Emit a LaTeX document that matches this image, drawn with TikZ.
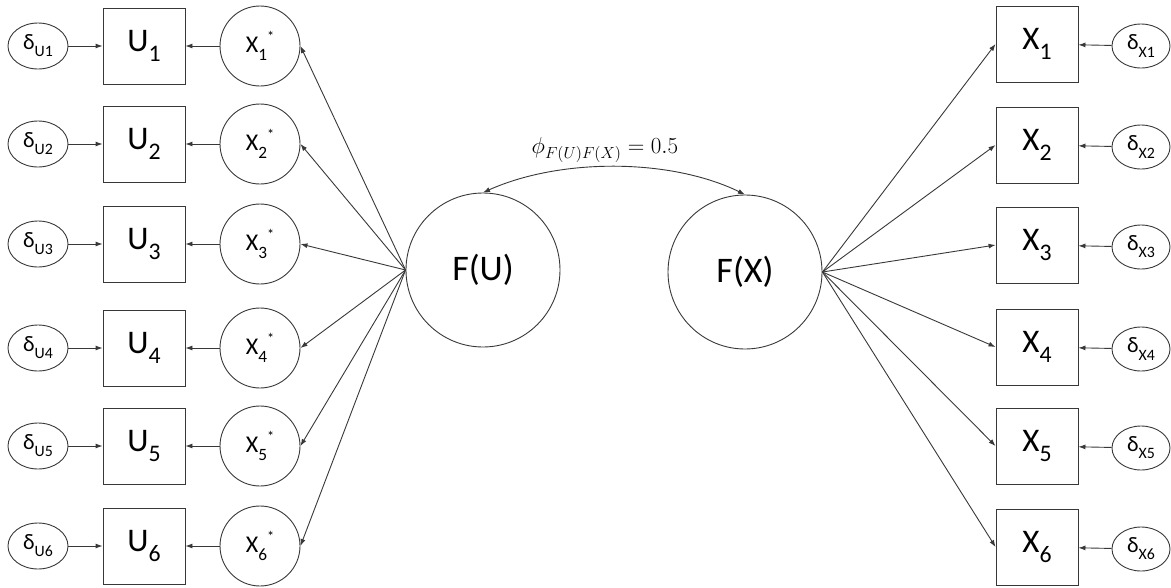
\documentclass[tikz,border=0pt]{standalone}
\usepackage{fix-cm}
\usepackage{fontspec}
\setmainfont{Carlito}
\usetikzlibrary{arrows.meta,shapes.geometric}

% base letter with a lowered index
\newcommand{\lowidx}[2]{#1\raisebox{-0.32em}{\scalebox{0.72}{#2}}}

\begin{document}
\begin{tikzpicture}[x=1pt,y=-1pt,
  line/.style={draw=black!78,line width=0.9pt},
  arr/.style={line,-{Latex[length=7pt,width=5pt]}},
  err/.style={line,ellipse,minimum width=60pt,minimum height=46pt,inner sep=0pt,font=\fontsize{22}{24}\selectfont},
  obs/.style={line,rectangle,minimum width=82pt,minimum height=76pt,inner sep=0pt,font=\fontsize{33}{36}\selectfont},
  star/.style={line,circle,minimum size=80pt,inner sep=0pt,font=\fontsize{24}{26}\selectfont},
  factor/.style={line,circle,minimum size=154pt,inner sep=0pt,font=\fontsize{36}{40}\selectfont}]
\useasboundingbox (0,0) rectangle (1171,587);

% left block: errors, indicators U and latent X*
\foreach \i/\y in {1/46,2/144,3/244,4/348,5/446,6/546}{
  \node[err]  (dU\i) at (38,\y)  {\lowidx{δ}{U\i}};
  \node[obs]  (U\i)  at (144,\y) {\lowidx{U}{\i}};
  \node[star] (S\i)  at (260,\y) {\lowidx{X}{\i}\raisebox{0.45em}{\scalebox{0.6}{*}}};
  \draw[arr] (dU\i) -- (U\i);
  \draw[arr] (S\i) -- (U\i);
}

% factors
\node[factor] (FU) at (483,270) {F(U)};
\node[factor] (FX) at (745,272) {F(X)};

% right block: indicators X and errors
\foreach \i/\y in {1/44,2/145,3/245,4/347,5/446,6/547}{
  \node[obs] (X\i)  at (1037,\y) {\lowidx{X}{\i}};
  \node[err,minimum width=58pt,minimum height=44pt] (dX\i) at (1141,\y+2) {\lowidx{δ}{X\i}};
  \draw[arr] (dX\i) -- (X\i);
}

% loadings
\foreach \i in {1,...,6}{
  \draw[arr] (FU.west) -- (S\i.east);
  \draw[arr] (FX.east) -- (X\i.west);
}

% factor correlation
\draw[line,{Latex[length=7pt,width=5pt]}-{Latex[length=7pt,width=5pt]}]
  (FU.north) .. controls (560,158) and (670,158) .. (FX.north);
\node[font=\fontsize{23}{26}\selectfont] (phi) at (605,150) {$\phi_{F(U)F(X)} = 0.5$};
\end{tikzpicture}
\end{document}
